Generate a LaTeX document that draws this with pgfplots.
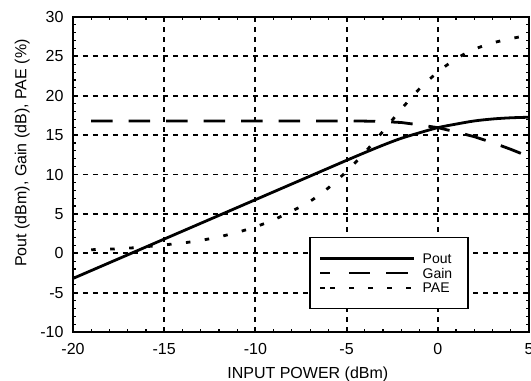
\documentclass[border=0pt]{standalone}
\usepackage{pgfplots}
\pgfplotsset{compat=1.18}
\usepackage{fontspec}
\setmainfont{Liberation Sans}
\pgfplotsset{
 longlegend/.style={legend image code/.code={\path (0bp,0bp) -- (10bp,0bp); \draw[##1] (10bp,0bp) -- (94bp,0bp);}},
 gainlegend/.style={legend image code/.code={\path (0bp,0bp) -- (10bp,0bp); \draw[##1] (28.7bp,0bp) -- (94bp,0bp);}},
}
\begin{document}
\begin{tikzpicture}
\begin{axis}[
 at={(0,0)}, anchor=south west,
 scale only axis, width=456bp, height=315bp,
 xmin=-20, xmax=5, ymin=-10, ymax=30,
 xtick={-20,-15,...,5}, ytick={-10,-5,...,30},
 minor tick num=4,
 tick align=inside, xtick pos=both, ytick pos=both,
 xticklabel pos=lower, yticklabel pos=left,
 major tick length=4bp, minor tick length=3bp,
 every tick/.style={black, line width=1.2bp},
 grid=major,
 major grid style={black, line width=1.8bp, dash pattern=on 5bp off 5bp},
 axis line style={line width=2.6bp},
 /pgf/number format/assume math mode=true,
 ticklabel style={font=\fontsize{16bp}{19bp}\selectfont},
 xticklabel style={yshift=-8bp},
 yticklabel style={xshift=-6bp},
 xlabel={INPUT POWER (dBm)},
 ylabel={Pout (dBm), Gain (dB), PAE (\%)},
 label style={font=\fontsize{16bp}{19bp}\selectfont},
 xlabel style={at={(axis description cs:0.515,-0.149)}, anchor=base},
 ylabel style={at={(axis description cs:-0.102,0.568)}, anchor=base},
 longlegend,
 legend cell align=left,
 legend style={at={(rel axis cs:0.8684,0.3016)}, anchor=north east, draw=black, line width=1.5bp, fill=white,
   inner xsep=9bp, inner ysep=13bp, row sep=0pt,
   font=\fontsize{14bp}{14bp}\selectfont,
   nodes={inner xsep=7bp, inner ysep=2.45bp, text height=10bp, text depth=0bp}},
]
\addplot[black, line width=2.8bp, smooth] coordinates {
(-20,-3.2) (-19,-2.2) (-18,-1.2) (-17,-0.2) (-16,0.8) (-15,1.8) (-14,2.8) (-13,3.8) (-12,4.8) (-11,5.8) (-10,6.8) (-9,7.8) (-8,8.8) (-7,9.8) (-6,10.8) (-5,11.8) (-4,12.78) (-3,13.73) (-2,14.6) (-1,15.3) (0,15.95) (1,16.4) (2,16.8) (3,17.05) (4,17.2) (5,17.27)
};
\addlegendentry{Pout}
\addplot[black, line width=2.8bp, dash pattern=on 21.5bp off 16bp, gainlegend] coordinates {
(-19,16.8) (-15,16.8) (-10,16.8) (-5,16.8) (-4,16.78) (-3,16.73) (-2,16.6) (-1,16.3) (0,15.95) (1,15.4) (2,14.8) (3,14.05) (4,13.2) (5,12.27)
};
\addlegendentry{Gain}
\addplot[black, line width=2.8bp, dash pattern=on 4.5bp off 14.5bp, smooth] coordinates {
(-19,0.45) (-18,0.52) (-17,0.64) (-16,0.83) (-15,1.06) (-14,1.30) (-13,1.63) (-12,2.08) (-11,2.65) (-10,3.35) (-9,4.25) (-8,5.35) (-7,6.6) (-6,8.3) (-5,10.4) (-4,12.8) (-3,15.5) (-2,18.3) (-1,20.9) (0,23.0) (1,24.7) (2,25.9) (3,26.7) (4,27.25) (5,27.7)
};
\addlegendentry{PAE}
\end{axis}
\pgfresetboundingbox
\path[use as bounding box] (-73bp,-49bp) rectangle (458bp,332bp);
\end{tikzpicture}
\end{document}
